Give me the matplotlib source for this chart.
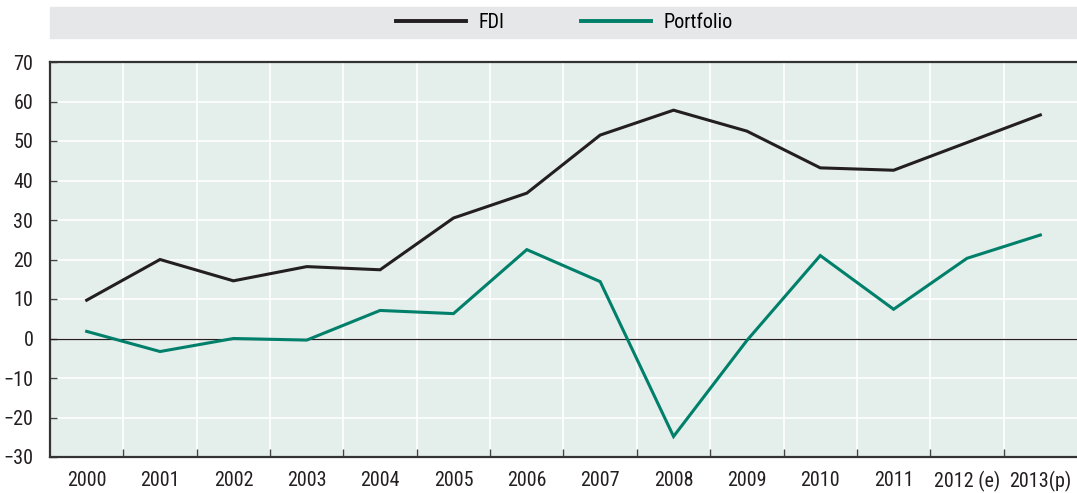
import numpy as np
import matplotlib.pyplot as plt
from matplotlib.patches import Rectangle
from matplotlib.lines import Line2D

plt.rcParams['font.family'] = ['Roboto Condensed', 'Archivo Narrow', 'DejaVu Sans']

years = ['2000', '2001', '2002', '2003', '2004', '2005', '2006', '2007',
         '2008', '2009', '2010', '2011', '2012 (e)', '2013(p)']
fdi = [9.7, 20.0, 14.6, 18.2, 17.4, 30.5, 36.8, 51.5, 57.8, 52.5, 43.2, 42.6, 49.6, 56.6]
portfolio = [1.8, -3.3, 0.0, -0.4, 7.1, 6.3, 22.5, 14.4, -24.8, -0.5, 21.0, 7.4, 20.3, 26.2]

black = '#231f20'
teal = '#00806a'

fig = plt.figure(figsize=(10.77, 4.93), dpi=100)
ax = fig.add_axes([50 / 1077, 1 - 457 / 493, 1 - 50 / 1077, (457 - 62) / 493])
ax.set_facecolor('#e4eeea')

x = np.arange(len(years))
ax.plot(x, fdi, color=black, lw=2.2, solid_joinstyle='miter', zorder=4)
ax.plot(x, portfolio, color=teal, lw=2.2, solid_joinstyle='miter', zorder=4)
ax.axhline(0, color=black, lw=0.9, zorder=3)

ax.set_xlim(-0.5, len(years) - 0.5)
ax.set_ylim(-30, 70)
ax.set_yticks(range(-30, 71, 10))
ax.set_xticks(x)
ax.set_xticklabels(years)
ax.set_xticks(x[:-1] + 0.5, minor=True)

ax.grid(True, axis='y', color='white', lw=1.2, zorder=1)
ax.grid(True, axis='x', which='minor', color='white', lw=1.2, zorder=1)
ax.set_axisbelow(True)

ax.tick_params(axis='x', which='major', length=0, pad=10, labelsize=14.5, colors=black)
ax.tick_params(axis='x', which='minor', direction='in', length=6, width=1, color='#444444')
ax.tick_params(axis='y', direction='in', length=5, width=1, color='#444444',
               labelsize=14.5, labelcolor=black, pad=12)

for s in ['left', 'bottom', 'top']:
    ax.spines[s].set_color('#333333')
    ax.spines[s].set_linewidth(1.6)
ax.spines['right'].set_visible(False)

# legend band
fig.patches.append(Rectangle((50 / 1077, 1 - 38 / 493), 1 - 50 / 1077, 31 / 493,
                             transform=fig.transFigure, color='#e6e7e8', zorder=0))
handles = [Line2D([], [], color=black, lw=2.8), Line2D([], [], color=teal, lw=2.8)]
fig.legend(handles, ['FDI', 'Portfolio'], loc='center', bbox_to_anchor=(0.524, 1 - 22.5 / 493),
           ncol=2, frameon=False, fontsize=14.5, handlelength=3.5, columnspacing=3.8,
           handletextpad=0.6)

fig.savefig('out.png', dpi=100)
